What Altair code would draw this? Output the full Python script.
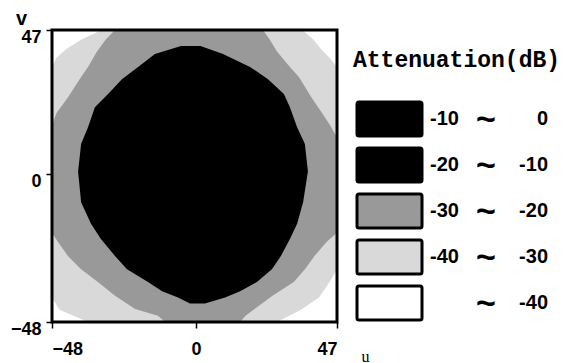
import altair as alt
import pandas as pd

# ---- axis ticks / domain ----
U_TICKS = [-48, 0, 47]
V_TICKS = [-48, 0, 47]

# ---- region boundaries (row v, left u, right u) ----
# > -20 dB (black disk)
black_v = [41.8, 39.2, 35, 31, 26.2, 21.9, 15.4, 9.9, 1, -9, -16, -21, -26.5, -30.8, -35, -38, -40, -42]
black_uL = [-5, -13.7, -19.3, -24.7, -29.3, -33.7, -36, -38.3, -39.3, -38.3, -35, -31.7, -27, -23, -16, -11.3, -6, -2]
black_uR = [1.5, 9, 18, 24, 29.3, 31.3, 33.7, 36.3, 37.3, 35.7, 33.7, 31.3, 28.3, 25.3, 20.3, 14.7, 9.7, 3]

# -30 ~ -20 dB (dense stipple)
dense_v = [47, 44, 40, 35, 31.7, 25, 20, 16, 12, -19, -22, -26.5, -30.8, -35, -39.5, -43.8, -46, -48]
dense_uL = [-27, -30, -33, -36, -38.3, -42.7, -46.5, -48, -48, -48, -46, -42.7, -38.3, -32.7, -27, -20.3, -12.7, -10.3]
dense_uR = [22.3, 24.5, 27, 31.3, 34.3, 38.5, 42, 44.7, 47, 47, 43.5, 39.5, 36.3, 32.6, 25.5, 19.5, 16.5, 14.7]

# -40 ~ -30 dB (sparse stipple)
sparse_v = [47, 44, 41, 38, 35, -31, -35, -40, -44, -48]
sparse_uL = [-31.5, -38, -43, -46.5, -48, -48, -48, -48, -45.5, -36]
sparse_uR = [35.5, 39, 41.5, 44.5, 47, 47, 44.5, 41, 35, 27]

# ---- legend ----
leg_idx = [1, 2, 3, 4, 5]
leg_lo = ["-10", "-20", "-30", "-40", ""]
leg_hi = ["0", "-10", "-20", "-30", "-40"]
LEG_TITLE = "Attenuation(dB)"

DENSE = "#999999"
SPARSE = "#d9d9d9"
leg_fill = ["#000000", "#000000", DENSE, SPARSE, "#ffffff"]

xs = alt.Scale(domain=[U_TICKS[0], U_TICKS[-1]], nice=False, zero=False)
ys = alt.Scale(domain=[V_TICKS[0], V_TICKS[-1]], nice=False, zero=False)

x_axis = alt.Axis(values=U_TICKS, title="u", titleAngle=0, titleX=313, titleY=39,
                  titleAlign="center", titleBaseline="alphabetic",
                  titleFont="Liberation Serif", titleFontSize=16, titleFontWeight="normal",
                  titleColor="black", domain=False, grid=False, tickSize=6, tickWidth=1.5,
                  tickColor="black", labelPadding=12, labelFont="Liberation Sans",
                  labelFontSize=18, labelFontWeight="bold", labelColor="black")
y_axis = alt.Axis(values=V_TICKS, title="v", titleAngle=0, titleX=-31, titleY=-6,
                  titleAlign="center", titleBaseline="alphabetic",
                  titleFont="Liberation Sans", titleFontSize=20, titleFontWeight="bold",
                  titleColor="black", domain=False, grid=False, tickSize=6, tickWidth=1.5,
                  tickColor="black", labelPadding=5, labelOffset=7, labelFont="Liberation Sans",
                  labelFontSize=18, labelFontWeight="bold", labelColor="black")


def band(v, uL, uR, color):
    df = pd.DataFrame({"v": v, "uL": uL, "uR": uR})
    return alt.Chart(df).mark_area(orient="horizontal", color=color, clip=True,
                                   interpolate="linear", opacity=1).encode(
        y=alt.Y("v:Q", scale=ys, axis=y_axis),
        x=alt.X("uL:Q", scale=xs, axis=x_axis),
        x2="uR:Q",
    )


frame_df = pd.DataFrame({"u1": [U_TICKS[0]], "u2": [U_TICKS[-1]],
                         "v1": [V_TICKS[0]], "v2": [V_TICKS[-1]]})
frame = alt.Chart(frame_df).mark_rect(fill="transparent", stroke="black", strokeWidth=3).encode(
    x=alt.X("u1:Q", scale=xs, axis=x_axis), x2="u2:Q",
    y=alt.Y("v1:Q", scale=ys, axis=y_axis), y2="v2:Q",
)

heat = alt.layer(
    band(sparse_v, sparse_uL, sparse_uR, SPARSE),
    band(dense_v, dense_uL, dense_uR, DENSE),
    band(black_v, black_uL, black_uR, "#000000"),
    frame,
).properties(width=285, height=292)

leg_df = pd.DataFrame({"idx": leg_idx, "lo": leg_lo, "hi": leg_hi, "fill": leg_fill})
ly = alt.Scale(domain=[-0.935, 5.413], reverse=True, nice=False, zero=False)

boxes = alt.Chart(leg_df).transform_calculate(
    y1="datum.idx - 0.37", y2="datum.idx + 0.37"
).mark_rect(stroke="black", strokeWidth=3, cornerRadius=2).encode(
    x=alt.value(5), x2=alt.value(70),
    y=alt.Y("y1:Q", scale=ly, axis=None), y2="y2:Q",
    fill=alt.Fill("fill:N", scale=None),
)
txt_style = dict(font="Liberation Sans", fontSize=20, fontWeight="bold", color="black",
                 baseline="middle")
lo_t = alt.Chart(leg_df).mark_text(align="left", **txt_style).encode(
    x=alt.value(78), y=alt.Y("idx:Q", scale=ly, axis=None), text="lo:N")
hi_t = alt.Chart(leg_df).mark_text(align="right", **txt_style).encode(
    x=alt.value(196), y=alt.Y("idx:Q", scale=ly, axis=None), text="hi:N")
tilde = alt.Chart(leg_df).mark_text(align="center", baseline="middle", text="~",
                                    font="Liberation Sans", fontSize=34, fontWeight="bold",
                                    color="black", dy=1).encode(
    x=alt.value(134), y=alt.Y("idx:Q", scale=ly, axis=None))
title = alt.Chart(pd.DataFrame({"t": [LEG_TITLE]})).mark_text(
    align="left", baseline="alphabetic", font="Liberation Mono", fontSize=23,
    fontWeight="bold", color="black").encode(x=alt.value(1), y=alt.value(37), text="t:N")

legend = alt.layer(title, boxes, lo_t, tilde, hi_t).properties(width=208, height=292)

chart = alt.hconcat(heat, legend, spacing=15, bounds="flush").properties(
    padding={"left": 2, "top": 0, "right": 0, "bottom": 0}
).configure_view(strokeWidth=0)

chart.save("out.html", embed_options={"renderer": "svg", "actions": False})
